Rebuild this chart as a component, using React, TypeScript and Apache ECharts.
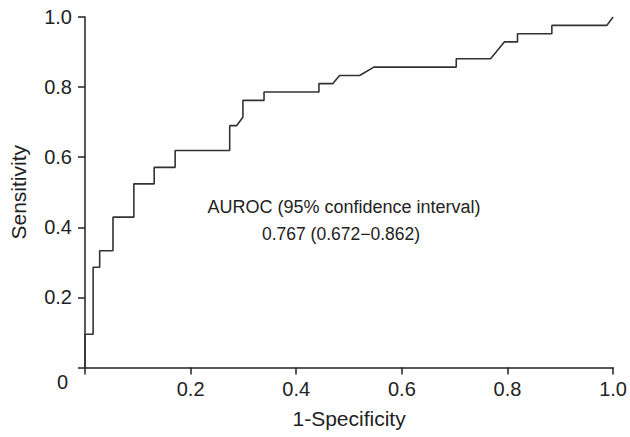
import React, { useEffect, useRef } from "react";
import * as echarts from "echarts";

const rocX = [0, 0, 0.0154, 0.0154, 0.0278, 0.0278, 0.053, 0.053, 0.0925, 0.0925, 0.131, 0.131, 0.1707, 0.1707, 0.274, 0.274, 0.287, 0.299, 0.299, 0.339, 0.339, 0.443, 0.443, 0.4695, 0.482, 0.52, 0.547, 0.703, 0.703, 0.768, 0.794, 0.819, 0.819, 0.884, 0.884, 0.988, 1.0];
const rocY = [0, 0.095, 0.095, 0.286, 0.286, 0.333, 0.333, 0.429, 0.429, 0.524, 0.524, 0.571, 0.571, 0.619, 0.619, 0.69, 0.69, 0.714, 0.762, 0.762, 0.786, 0.786, 0.81, 0.81, 0.833, 0.833, 0.857, 0.857, 0.881, 0.881, 0.929, 0.929, 0.952, 0.952, 0.976, 0.976, 1.0];
const xTickLabels = ["", "0.2", "0.4", "0.6", "0.8", "1.0"];
const yTickLabels = ["", "0.2", "0.4", "0.6", "0.8", "1.0"];
const xName = "1-Specificity";
const yName = "Sensitivity";
const originLabel = "0";
const annotation = ["AUROC (95% confidence interval)", "0.767 (0.672\u22120.862)"];

const FONT = "'Liberation Sans', Arial, sans-serif";

export default function App() {
  const ref = useRef<HTMLDivElement>(null);
  useEffect(() => {
    if (!ref.current) return;
    const chart = echarts.init(ref.current, undefined, { renderer: "svg" });
    const axisCommon = {
      type: "value" as const,
      min: 0,
      max: 1,
      interval: 0.2,
      splitLine: { show: false },
      axisLine: { show: true, lineStyle: { color: "#222", width: 1.5 } },
      axisTick: { show: true, length: 7, lineStyle: { color: "#222", width: 1.5 } },
      nameLocation: "middle" as const,
      nameTextStyle: { color: "#222", fontSize: 21, fontFamily: FONT },
    };
    chart.setOption({
      animation: false,
      grid: { left: 83.5, right: 14.5, top: 17, bottom: 69.5 },
      xAxis: {
        ...axisCommon,
        name: xName,
        nameGap: 40,
        axisLabel: {
          color: "#222",
          fontSize: 20,
          fontFamily: FONT,
          margin: 11,
          formatter: (v: number) => xTickLabels[Math.round(v / 0.2)],
        },
      },
      yAxis: {
        ...axisCommon,
        name: yName,
        nameGap: 56,
        axisLabel: {
          color: "#222",
          fontSize: 20,
          fontFamily: FONT,
          margin: 13,
          formatter: (v: number) => yTickLabels[Math.round(v / 0.2)],
        },
      },
      graphic: [
        {
          type: "text",
          left: 57,
          top: 372,
          style: { text: originLabel, fill: "#222", fontSize: 20, fontFamily: FONT },
        },
        {
          type: "text",
          x: 344,
          y: 207,
          style: {
            text: annotation[0],
            fill: "#222",
            fontSize: 18,
            fontFamily: FONT,
            textAlign: "center",
            textVerticalAlign: "middle",
          },
        },
        {
          type: "text",
          x: 341,
          y: 234,
          style: {
            text: annotation[1],
            fill: "#222",
            fontSize: 17.5,
            fontFamily: FONT,
            textAlign: "center",
            textVerticalAlign: "middle",
          },
        },
      ],
      series: [
        {
          type: "line",
          data: rocX.map((x, i) => [x, rocY[i]]),
          showSymbol: false,
          symbol: "none",
          lineStyle: { color: "#333", width: 1.6 },
          z: 1,
        },
      ],
    });
    return () => chart.dispose();
  }, []);
  return (
    <div
      ref={ref}
      style={{ position: "fixed", left: 0, top: 0, width: 630, height: 437, background: "#fff" }}
    />
  );
}
